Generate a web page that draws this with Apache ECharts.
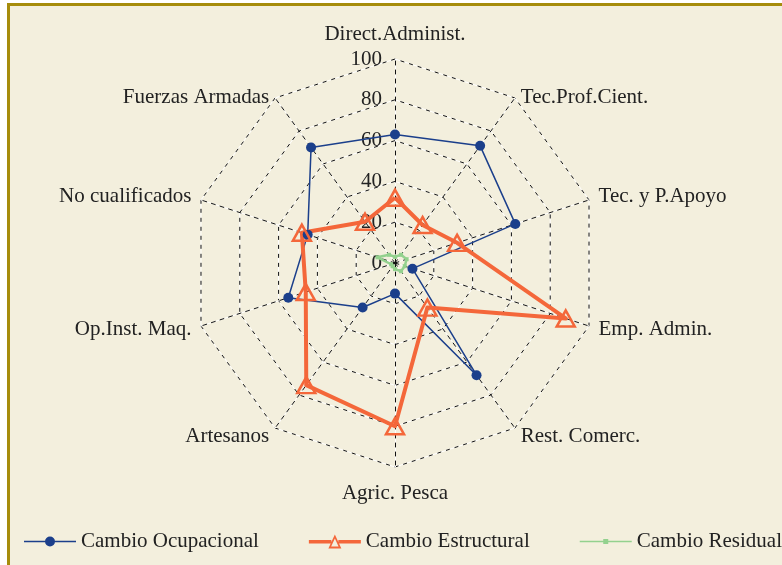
<!DOCTYPE html>
<html>
<head>
<meta charset="utf-8">
<script src="https://cdn.jsdelivr.net/npm/echarts@6/dist/echarts.min.js"></script>
<style>
    body { margin: 0; background: #fff; }
    #frame {
        position: absolute; left: 7px; top: 3px; width: 800px; height: 600px;
        border-top: 3px solid #a68c0c; border-left: 3px solid #a68c0c;
        background: #f3efdd;
    }
    #chart { position: absolute; left: 0; top: 0; width: 782px; height: 565px; }
</style>
</head>
<body>
<div id="frame"></div>
<div id="chart"></div>
<script>
    // ejes en orden horario desde arriba
    const indicatorNames = ['Direct.Administ.', 'Tec.Prof.Cient.', 'Tec. y P.Apoyo', 'Emp. Admin.', 'Rest. Comerc.',
        'Agric. Pesca', 'Artesanos', 'Op.Inst. Maq.', 'No cualificados', 'Fuerzas Armadas']
    const ocupacional = [63, 71, 62, 9, 68, 15, 27, 55, 45, 70]
    const estructural = [32, 23, 32, 88, 27, 80, 74, 46, 48, 25]
    const residual = [3, 5, 6, 5, 5, 3, 2, 2, 9, 5]
    const seriesNames = ['Cambio Ocupacional', 'Cambio Estructural', 'Cambio Residual']

    const serif = 'Liberation Serif'
    const textColor = '#222'
    const blue = '#1b3f8b'
    const orange = '#f4673a'
    const green = '#93d18e'

    // echarts dibuja el radar en sentido antihorario -> invertir
    const order = [0, 9, 8, 7, 6, 5, 4, 3, 2, 1]
    const pick = arr => order.map(i => arr[i])

    // pequeño ajuste vertical de algunos nombres
    const nameStyle = {
        'Direct.Administ.': 'up',
        'Tec.Prof.Cient.': 'down',
        'Fuerzas Armadas': 'down',
        'Agric. Pesca': 'low'
    }

    function indicators() {
        return pick(indicatorNames).map((n, i) => {
            let ind = { name: n, min: 0, max: 100 }
            if (i === 0) ind.axisLabel = { show: true }
            return ind
        })
    }

    function radarBase(lineStyle, showName) {
        return {
            center: [395, 263],
            radius: 204,
            startAngle: 90,
            shape: 'polygon',
            splitNumber: 5,
            indicator: indicators(),
            nameGap: 10,
            axisName: {
                show: showName, color: textColor, fontFamily: serif, fontSize: 21,
                formatter: name => nameStyle[name] ? '{' + nameStyle[name] + '|' + name + '}' : name,
                rich: {
                    up: { padding: [0, 0, 4, 0] },
                    down: { padding: [16, 0, 0, 0] },
                    low: { padding: [6, 0, 0, 0] }
                }
            },
            axisLine: { lineStyle: lineStyle },
            splitLine: { lineStyle: lineStyle },
            splitArea: { show: false },
            axisTick: { show: false },
            axisLabel: { show: false, color: textColor, fontFamily: serif, fontSize: 21, margin: 13 }
        }
    }

    const whiteRadar = radarBase({ color: '#ffffff', width: 1, type: 'solid' }, false)
    whiteRadar.indicator.forEach(ind => { delete ind.axisLabel })
    const blackRadar = radarBase({ color: '#111', width: 1, type: [4, 5] }, true)

    const chart = echarts.init(document.getElementById('chart'))
    chart.setOption({
        animation: false,
        legend: {
            left: 24,
            top: 531,
            padding: 0,
            itemGap: 50,
            itemWidth: 52,
            itemHeight: 16,
            textStyle: { color: textColor, fontFamily: serif, fontSize: 21 },
            itemStyle: { borderWidth: 0 },
            data: [
                {
                    name: seriesNames[0],
                    icon: 'path://M0,7.2h52v1.6h-52z M26,3a5,5 0 1 1 0,10a5,5 0 1 1 0,-10z',
                    itemStyle: { color: blue, borderWidth: 0 }
                },
                {
                    name: seriesNames[1],
                    icon: 'path://M0,6.5h22.5v3.5h-22.5z M29.5,6.5h22.5v3.5h-22.5z M26,1L32.5,15L19.5,15z M26,5L22.3,13L29.7,13z',
                    itemStyle: { color: orange, borderWidth: 0 }
                },
                {
                    name: seriesNames[2],
                    icon: 'path://M0,7.3h52v1.4h-52z M23.5,5.5h5v5h-5z',
                    itemStyle: { color: green, borderWidth: 0 }
                }
            ]
        },
        radar: [whiteRadar, blackRadar],
        series: [
            {
                type: 'radar',
                radarIndex: 1,
                emphasis: { disabled: true },
                data: [{
                    name: seriesNames[0],
                    value: pick(ocupacional),
                    symbol: 'circle',
                    symbolSize: 10,
                    lineStyle: { color: blue, width: 1.5 },
                    itemStyle: { color: blue }
                }]
            },
            {
                type: 'radar',
                radarIndex: 1,
                emphasis: { disabled: true },
                data: [{
                    name: seriesNames[1],
                    value: pick(estructural),
                    symbol: 'triangle',
                    symbolSize: [18, 16],
                    lineStyle: { color: orange, width: 4 },
                    itemStyle: { color: 'rgba(0,0,0,0)', borderColor: orange, borderWidth: 2.5 }
                }]
            },
            {
                type: 'radar',
                radarIndex: 1,
                emphasis: { disabled: true },
                data: [{
                    name: seriesNames[2],
                    value: pick(residual),
                    symbol: 'rect',
                    symbolSize: 4,
                    lineStyle: { color: green, width: 2.5 },
                    itemStyle: { color: green }
                }]
            }
        ]
    })
</script>
</body>
</html>
